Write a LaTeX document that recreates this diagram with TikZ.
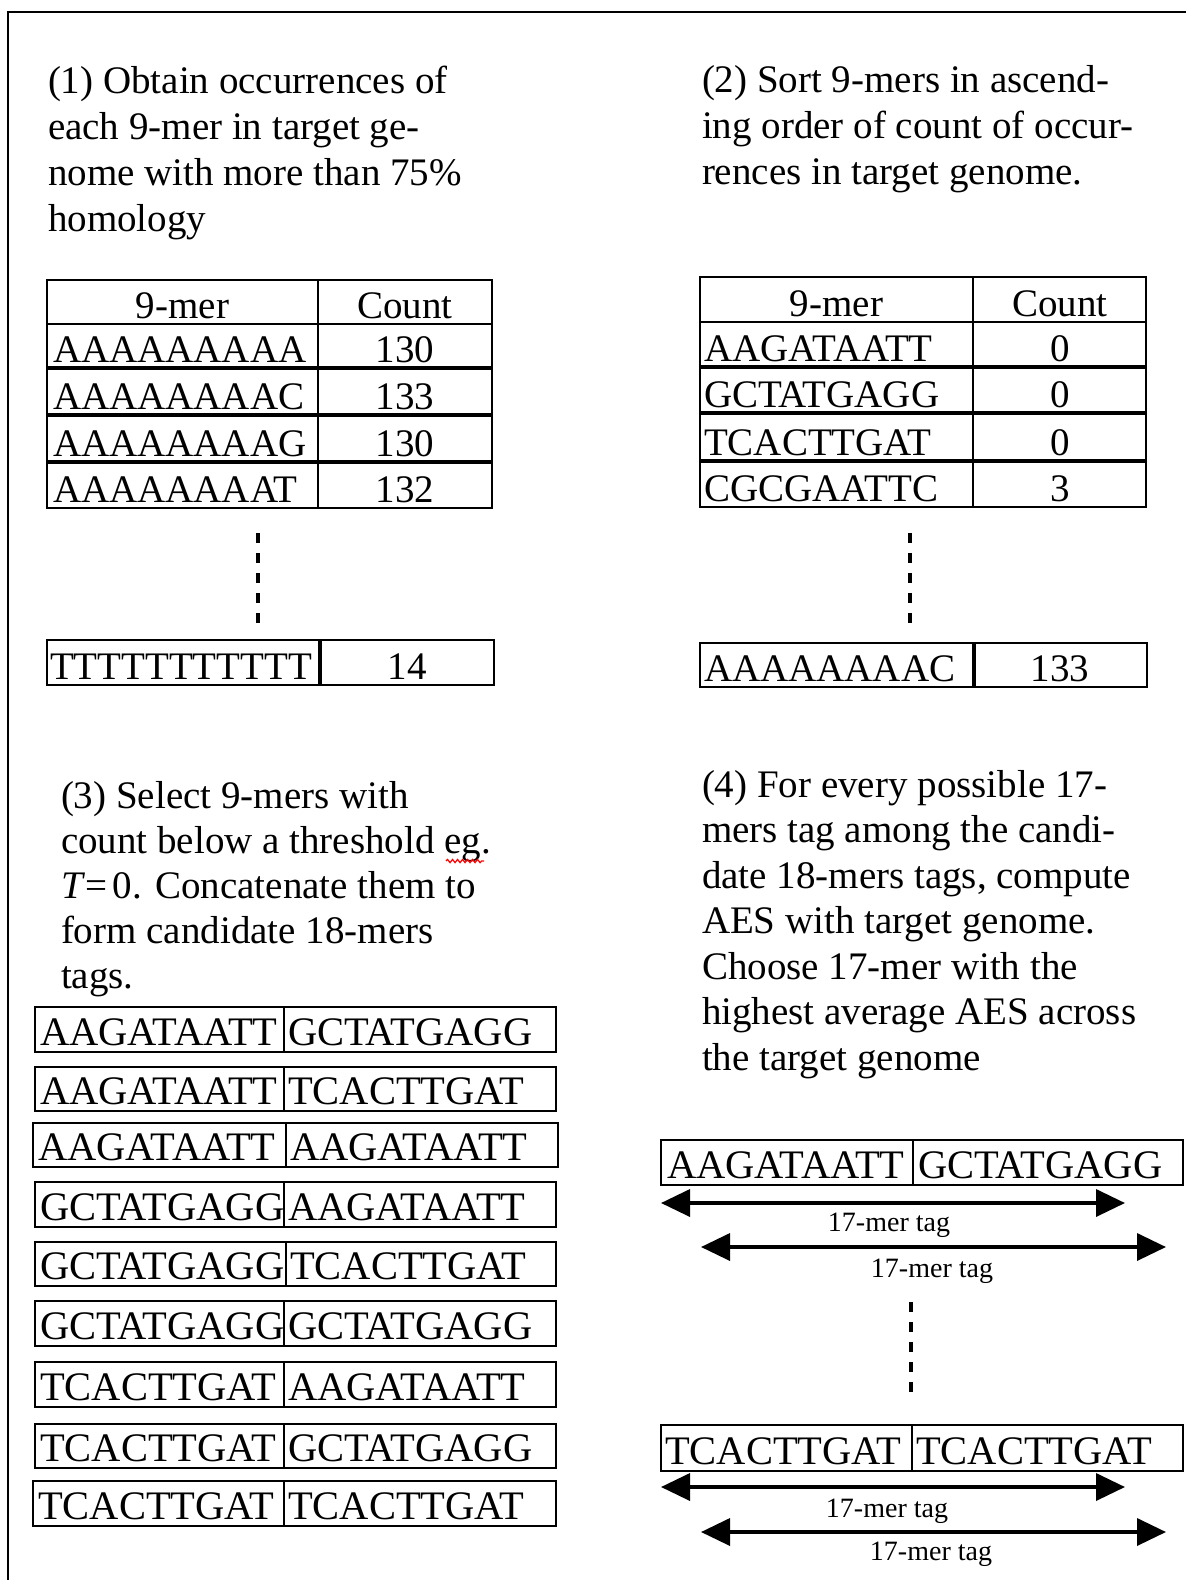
\documentclass[tikz,border=0pt]{standalone}
\usepackage{fontspec}
\setmainfont{Liberation Serif}
\usetikzlibrary{arrows.meta,decorations.pathmorphing}

\begin{document}
\begin{tikzpicture}[x=1pt,y=-1pt,
  every node/.style={inner sep=0pt, outer sep=0pt},
  para/.style={anchor=base west, font=\fontsize{39}{46}\selectfont},
  cell/.style={anchor=base west, font=\fontsize{39}{46}\selectfont},
  seqcell/.style={anchor=base west, font=\fontsize{40.5}{46}\selectfont},
  num/.style={anchor=base, font=\fontsize{39}{46}\selectfont},
  rule/.style={line width=1.7pt},
  heavyrule/.style={line width=3.8pt},
  ellipsis/.style={line width=3.6pt, dash pattern=on 10pt off 10pt},
  span/.style={line width=3.6pt, {Triangle[length=29pt,width=27pt]}-{Triangle[length=29pt,width=27pt]}},
  taglabel/.style={anchor=base, font=\fontsize{28}{30}\selectfont},
  frame/.style={line width=2.6pt},
]
\useasboundingbox[fill=white] (0,0) rectangle (1186,1580);

% outer frame (top and left edges)
\draw[frame] (8,1580) -- (8,12) -- (1186,12);

% ---------- step (1) ----------
\foreach \txt [count=\i] in {(1) Obtain occurrences of, each 9-mer in target ge-, nome with more than 75\%, homology}
  \node[para, name=p1-\i] at (48, 93+46*\i-46) {\txt};

\draw[rule] (47,280) rectangle (492,508);
\draw[rule] (318,280) -- (318,508);
\draw[rule] (47,324) -- (492,324);
\foreach \y in {368,415,462} \draw[heavyrule] (47,\y) -- (492,\y);
\node[num] (t1-h1) at (182.5,318) {9-mer};
\node[num] (t1-h2) at (405,318) {Count};
\foreach \s/\c/\b [count=\i] in {AAAAAAAAA/130/368, AAAAAAAAC/133/415, AAAAAAAAG/130/462, AAAAAAAAT/132/508} {
  \node[cell, name=t1-s\i] at (53,\b-6) {\s};
  \node[num, name=t1-c\i] at (405,\b-6) {\c};
}
\coordinate (d1a) at (258,533);
\coordinate (d1b) at (258,623);
\draw[ellipsis] (d1a) -- (d1b);
\draw[rule] (47,640) rectangle (494,685);
\draw[heavyrule] (320,640) -- (320,685);
\node[cell] (t1-ls) at (50,679) {TTTTTTTTTTT};
\node[num] (t1-lc) at (407,679) {14};

% ---------- step (2) ----------
\foreach \txt [count=\i] in {(2) Sort 9-mers in ascend-, ing order of count of occur-, rences in target genome.}
  \node[para, name=p2-\i] at (702, 92+46*\i-46) {\txt};

\draw[rule] (700,277) rectangle (1146,507);
\draw[rule] (973,277) -- (973,507);
\draw[rule] (700,322) -- (1146,322);
\foreach \y in {367,413,461} \draw[heavyrule] (700,\y) -- (1146,\y);
\node[num] (t2-h1) at (836.5,316) {9-mer};
\node[num] (t2-h2) at (1060,316) {Count};
\foreach \s/\c/\b [count=\i] in {AAGATAATT/0/367, GCTATGAGG/0/413, TCACTTGAT/0/461, CGCGAATTC/3/507} {
  \node[cell, name=t2-s\i] at (704,\b-6) {\s};
  \node[num, name=t2-c\i] at (1060,\b-6) {\c};
}
\coordinate (d2a) at (910,533);
\coordinate (d2b) at (910,625);
\draw[ellipsis] (d2a) -- (d2b);
\draw[rule] (700,643) rectangle (1147,687);
\draw[heavyrule] (974,643) -- (974,687);
\node[cell] (t2-ls) at (704,681) {AAAAAAAAC};
\node[num] (t2-lc) at (1060,681) {133};

% ---------- step (3) ----------
\foreach \txt [count=\i] in {(3) Select 9-mers with, count below a threshold eg., {\textit{T}\kern1pt=\kern5pt0. Concatenate them to}, form candidate 18-mers, tags.}
  \node[para, name=p3-\i] at (61, 808+45*\i-45) {\txt};
\draw[red, line width=1.2pt, decorate, decoration={snake, amplitude=1.6pt, segment length=5pt}]
  (446,861) -- (484,861);

\foreach \l/\r/\m/\t/\b/\sa/\sb [count=\i] in {
  35/556/284/1007/1052/AAGATAATT/GCTATGAGG,
  35/556/284/1067/1111/AAGATAATT/TCACTTGAT,
  33/558/286/1123/1167/AAGATAATT/AAGATAATT,
  35/556/284/1182/1227/GCTATGAGG/AAGATAATT,
  35/556/286/1242/1286/GCTATGAGG/TCACTTGAT,
  35/556/284/1301/1346/GCTATGAGG/GCTATGAGG,
  35/556/284/1362/1407/TCACTTGAT/AAGATAATT,
  35/556/284/1424/1468/TCACTTGAT/GCTATGAGG,
  33/556/284/1481/1526/TCACTTGAT/TCACTTGAT} {
  \draw[rule] (\l,\t) rectangle (\r,\b);
  \draw[rule] (\m,\t) -- (\m,\b);
  \node[seqcell, name=c\i-a] at (\l+5,\b-7) {\sa};
  \node[seqcell, name=c\i-b] at (\m+4,\b-7) {\sb};
}

% ---------- step (4) ----------
\foreach \txt [count=\i] in {(4) For every possible 17-, mers tag among the candi-, {date 18-mers tags, compute}, AES with target genome., Choose 17-mer with the, highest average AES across, the target genome}
  \node[para, name=p4-\i] at (702, 797+45.5*\i-45.5) {\txt};

% first candidate and its two 17-mer windows
\draw[rule] (661,1140) rectangle (1183,1185);
\draw[rule] (913,1140) -- (913,1185);
\node[seqcell] (k1-a) at (667,1178) {AAGATAATT};
\node[seqcell] (k1-b) at (918,1178) {GCTATGAGG};
\coordinate (w1l) at (661,1203);
\coordinate (w1r) at (1125,1203);
\coordinate (w2l) at (701,1247);
\coordinate (w2r) at (1166,1247);
\draw[span] (w1l) -- (w1r);
\node[taglabel] (w1t) at (889,1231) {17-mer tag};
\draw[span] (w2l) -- (w2r);
\node[taglabel] (w2t) at (932,1277) {17-mer tag};

\coordinate (d3a) at (911,1302);
\coordinate (d3b) at (911,1392);
\draw[ellipsis] (d3a) -- (d3b);

% last candidate and its two 17-mer windows
\draw[rule] (661,1425) rectangle (1183,1471);
\draw[rule] (912,1425) -- (912,1471);
\node[seqcell] (k2-a) at (665,1464) {TCACTTGAT};
\node[seqcell] (k2-b) at (916,1464) {TCACTTGAT};
\coordinate (w3l) at (661,1487);
\coordinate (w3r) at (1125,1487);
\coordinate (w4l) at (701,1532);
\coordinate (w4r) at (1166,1532);
\draw[span] (w3l) -- (w3r);
\node[taglabel] (w3t) at (887,1517) {17-mer tag};
\draw[span] (w4l) -- (w4r);
\node[taglabel] (w4t) at (931,1560) {17-mer tag};
\end{tikzpicture}
\end{document}
